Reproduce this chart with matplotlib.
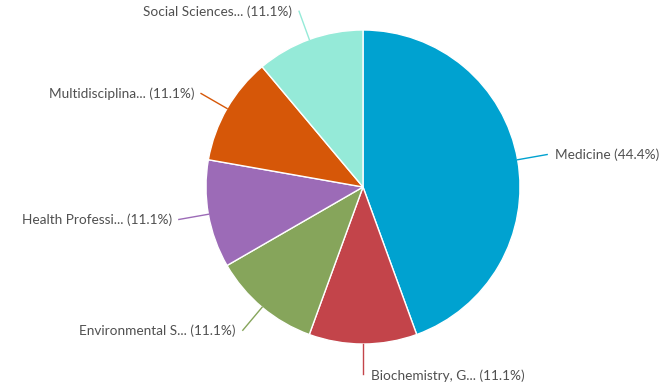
import numpy as np
import matplotlib.pyplot as plt

plt.rcParams['font.family'] = ['Lato', 'DejaVu Sans']

labels = ["Medicine", "Biochemistry, G...", "Environmental S...",
          "Health Professi...", "Multidisciplina...", "Social Sciences..."]
values = [44.4, 11.1, 11.1, 11.1, 11.1, 11.1]
colors = ["#00a2d0", "#c3444a", "#86a55b", "#9c6bb7", "#d65708", "#95ead8"]

fig = plt.figure(figsize=(6.62, 3.87), dpi=100)
ax = fig.add_axes([0, 0, 1, 1])

cx, cy, r = 363, 200, 157
wedges, _ = ax.pie(values, colors=colors, startangle=90, counterclock=False,
                   center=(cx, cy), radius=r,
                   wedgeprops=dict(edgecolor="white", linewidth=1))

# connector lines + labels
for w, lab, val, col in zip(wedges, labels, values, colors):
    mid = np.deg2rad((w.theta1 + w.theta2) / 2)
    x0, y0 = cx + r * np.cos(mid), cy + r * np.sin(mid)
    x1, y1 = cx + (r + 30) * np.cos(mid), cy + (r + 30) * np.sin(mid)
    ax.plot([x0, x1], [y0, y1], color=col, lw=1)
    if np.cos(mid) >= -0.05:
        tx, ha = x1 + 8, "left"
    else:
        tx, ha = x1 - 7, "right"
    ax.text(tx, y1 - 2 if ha == "left" and np.sin(mid) < -0.9 else y1,
            f"{lab} ({val}%)", ha=ha, va="center",
            fontsize=9.8, color="#505050")

ax.set_xlim(0, 662)
ax.set_ylim(0, 387)
ax.set_aspect("equal")
ax.axis("off")

fig.savefig("out.png", dpi=100)
